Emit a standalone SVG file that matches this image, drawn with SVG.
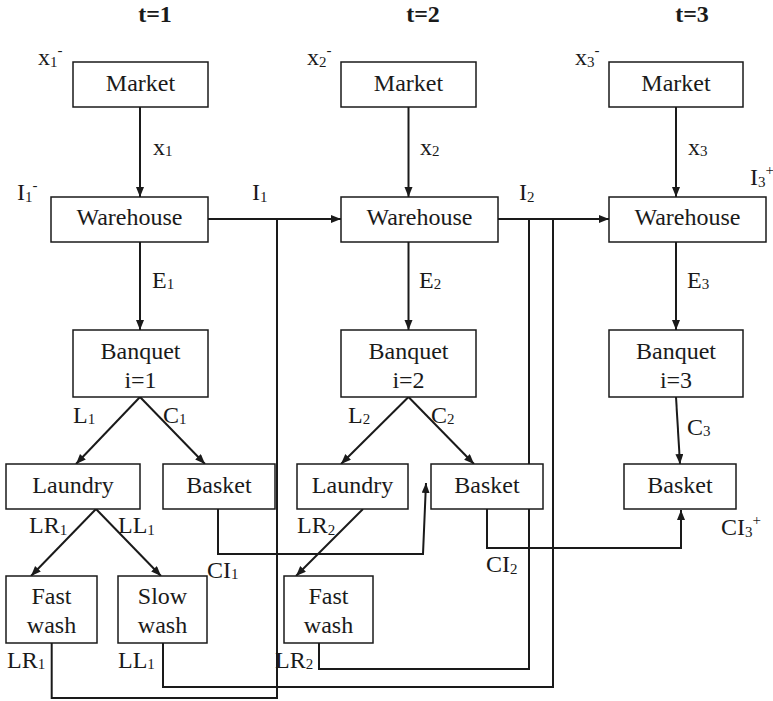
<svg xmlns="http://www.w3.org/2000/svg" width="773" height="701" viewBox="0 0 773 701" font-family="'Liberation Serif', 'Times New Roman', serif" font-size="24" fill="#1a1a1a">
  <style>
    .box { fill: #fff; stroke: #1a1a1a; stroke-width: 1.5; }
    .sub { font-size: 15px; }
    .wire { fill: none; stroke: #1a1a1a; stroke-width: 2; }
    .arr { marker-end: url(#head); }
  </style>
  <defs>
    <marker id="head" markerUnits="userSpaceOnUse" markerWidth="12" markerHeight="10" refX="10" refY="4" orient="auto">
      <path d="M0,0 L10,4 L0,8 Z" fill="#1a1a1a"/>
    </marker>
  </defs>
  <rect width="773" height="701" fill="#fff"/>

  <!-- period headings -->
  <g id="headings" font-weight="bold" text-anchor="middle">
    <text x="155" y="22">t=1</text>
    <text x="423" y="22">t=2</text>
    <text x="692" y="22">t=3</text>
  </g>

  <!-- connectors -->
  <g id="connectors">
    <path class="wire arr" d="M140,107 V197"/>
    <path class="wire arr" d="M408.5,107 V197"/>
    <path class="wire arr" d="M676,107 V197"/>
    <path class="wire arr" d="M140,242 V330"/>
    <path class="wire arr" d="M408.5,242 V330"/>
    <path class="wire arr" d="M676,242 V330"/>
    <path class="wire arr" d="M140,397 L76,464"/>
    <path class="wire arr" d="M140,397 L205,464"/>
    <path class="wire arr" d="M408.5,397 L341,464"/>
    <path class="wire arr" d="M408.5,397 L474,464"/>
    <path class="wire arr" d="M676,397 L680,464"/>
    <path class="wire arr" d="M96,509 L31,576"/>
    <path class="wire arr" d="M96,509 L161,576"/>
    <path class="wire arr" d="M363,509 L296,576"/>
    <path class="wire arr" d="M208,219 H341"/>
    <path class="wire arr" d="M498,219 H609"/>
    <path class="wire" d="M51.7,643 V698 H277 V219"/>
    <path class="wire" d="M163,643 V687 H553 V219"/>
    <path class="wire" d="M319,643 V669 H529 V219"/>
    <path class="wire arr" d="M218,509 V554 H423 L426,483"/>
    <path class="wire arr" d="M487,509 V548 H681 V510"/>
  </g>

  <g text-anchor="middle">
  <!-- period 1 -->
  <g id="market1"><rect class="box" x="73" y="62" width="135" height="45"/><text x="140.5" y="91">Market</text></g>
  <g id="warehouse1"><rect class="box" x="51" y="197" width="157" height="45"/><text x="129.5" y="225">Warehouse</text></g>
  <g id="banquet1"><rect class="box" x="73" y="330" width="135" height="67"/><text x="140.5" y="359">Banquet</text><text x="140.5" y="388">i=1</text></g>
  <g id="laundry1"><rect class="box" x="6" y="464" width="134" height="45"/><text x="73" y="493">Laundry</text></g>
  <g id="basket1"><rect class="box" x="163" y="464" width="112" height="45"/><text x="219" y="493">Basket</text></g>
  <g id="fastwash1"><rect class="box" x="6" y="576" width="91" height="67"/><text x="51.5" y="604">Fast</text><text x="51.5" y="633">wash</text></g>
  <g id="slowwash1"><rect class="box" x="118" y="576" width="89" height="67"/><text x="162.5" y="604">Slow</text><text x="162.5" y="633">wash</text></g>

  <!-- period 2 -->
  <g id="market2"><rect class="box" x="341" y="62" width="135" height="45"/><text x="408.5" y="91">Market</text></g>
  <g id="warehouse2"><rect class="box" x="341" y="197" width="157" height="45"/><text x="419.5" y="225">Warehouse</text></g>
  <g id="banquet2"><rect class="box" x="341" y="330" width="135" height="67"/><text x="408.5" y="359">Banquet</text><text x="408.5" y="388">i=2</text></g>
  <g id="laundry2"><rect class="box" x="297" y="464" width="111" height="45"/><text x="352.5" y="493">Laundry</text></g>
  <g id="basket2"><rect class="box" x="431" y="464" width="112" height="45"/><text x="487" y="493">Basket</text></g>
  <g id="fastwash2"><rect class="box" x="284" y="576" width="89" height="67"/><text x="328.5" y="604">Fast</text><text x="328.5" y="633">wash</text></g>

  <!-- period 3 -->
  <g id="market3"><rect class="box" x="609" y="62" width="134" height="45"/><text x="676" y="91">Market</text></g>
  <g id="warehouse3"><rect class="box" x="609" y="197" width="157" height="45"/><text x="687.5" y="225">Warehouse</text></g>
  <g id="banquet3"><rect class="box" x="609" y="330" width="134" height="67"/><text x="676" y="359">Banquet</text><text x="676" y="388">i=3</text></g>
  <g id="basket3"><rect class="box" x="624" y="464" width="112" height="45"/><text x="680" y="493">Basket</text></g>
  </g>

  <!-- flow labels -->
  <g id="labels">
    <text x="38" y="65">x<tspan class="sub" dy="2">1</tspan><tspan class="sub" dy="-12">-</tspan></text>
    <text x="307" y="65">x<tspan class="sub" dy="2">2</tspan><tspan class="sub" dy="-12">-</tspan></text>
    <text x="575" y="65">x<tspan class="sub" dy="2">3</tspan><tspan class="sub" dy="-12">-</tspan></text>
    <text x="153" y="155">x<tspan class="sub" dy="1">1</tspan></text>
    <text x="420" y="155">x<tspan class="sub" dy="1">2</tspan></text>
    <text x="688" y="155">x<tspan class="sub" dy="1">3</tspan></text>
    <text x="17" y="200">I<tspan class="sub" dy="2">1</tspan><tspan class="sub" dy="-12">-</tspan></text>
    <text x="252" y="200">I<tspan class="sub" dy="2">1</tspan></text>
    <text x="519" y="200">I<tspan class="sub" dy="2">2</tspan></text>
    <text x="750" y="185">I<tspan class="sub" dy="2">3</tspan><tspan class="sub" dy="-12">+</tspan></text>
    <text x="152" y="288">E<tspan class="sub" dy="1">1</tspan></text>
    <text x="419" y="288">E<tspan class="sub" dy="1">2</tspan></text>
    <text x="687" y="288">E<tspan class="sub" dy="1">3</tspan></text>
    <text x="73" y="423">L<tspan class="sub" dy="1">1</tspan></text>
    <text x="163" y="423">C<tspan class="sub" dy="1">1</tspan></text>
    <text x="348" y="423">L<tspan class="sub" dy="1">2</tspan></text>
    <text x="431" y="423">C<tspan class="sub" dy="1">2</tspan></text>
    <text x="687" y="435">C<tspan class="sub" dy="1">3</tspan></text>
    <text x="29" y="533">LR<tspan class="sub" dy="2">1</tspan></text>
    <text x="118" y="533">LL<tspan class="sub" dy="2">1</tspan></text>
    <text x="297" y="533">LR<tspan class="sub" dy="2">2</tspan></text>
    <text x="207" y="578">CI<tspan class="sub" dy="1">1</tspan></text>
    <text x="486" y="572">CI<tspan class="sub" dy="2">2</tspan></text>
    <text x="721" y="535">CI<tspan class="sub" dy="2">3</tspan><tspan class="sub" dy="-12">+</tspan></text>
    <text x="7" y="668">LR<tspan class="sub" dy="1">1</tspan></text>
    <text x="118" y="668">LL<tspan class="sub" dy="1">1</tspan></text>
    <text x="275" y="668">LR<tspan class="sub" dy="1">2</tspan></text>
  </g>
</svg>
